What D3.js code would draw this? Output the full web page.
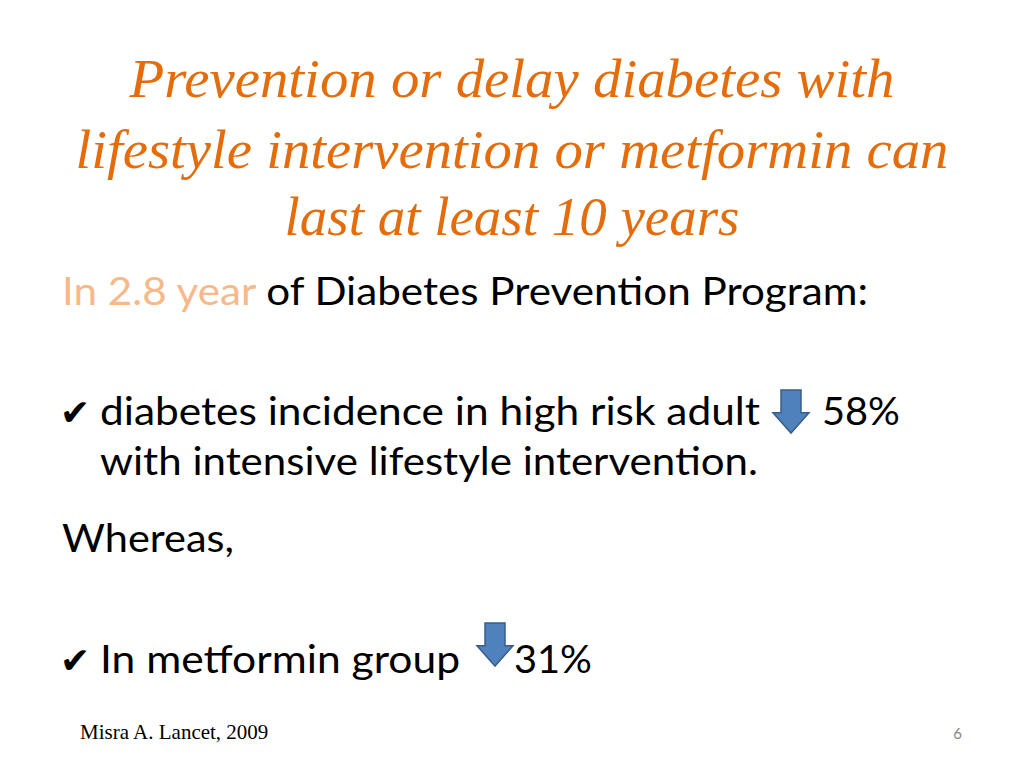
<!DOCTYPE html><html><head><meta charset="utf-8"><script src="https://cdn.jsdelivr.net/npm/d3@7"></script>
<style>body{margin:0;background:#fff}</style></head><body><svg id="s" width="1024" height="768"></svg>
<script>
const titleLines = ["Prevention or delay diabetes with","lifestyle intervention or metformin can","last at least 10 years"];
const reductionLabels = ["58%","31%"];
const reductionValues = [58,31];
const svg = d3.select("#s");
const orange = "#E46C0A";
const body = "Lato, 'Open Sans', sans-serif";
const tY = [97,168,235], tL=[765,873,455];
svg.selectAll("text.t").data(titleLines).join("text").attr("class","t")
  .attr("x",512).attr("y",(d,i)=>tY[i]).attr("text-anchor","middle")
  .attr("font-family","'Liberation Serif', serif").attr("font-style","italic")
  .attr("font-size",54).attr("fill",orange).attr("textLength",(d,i)=>tL[i]).attr("lengthAdjust","spacingAndGlyphs").text(d=>d);
function txt(x,y,parts,len,size){
  const t=svg.append("text").attr("x",x).attr("y",y).attr("font-family",body).attr("font-size",size||38);
  parts.forEach(p=>t.append("tspan").attr("fill",p[1]||"#000").text(p[0]));
  if(len) t.attr("textLength",len).attr("lengthAdjust","spacingAndGlyphs");
  return t;
}
txt(62,305,[["In 2.8 year ","#F7B989"],["of Diabetes Prevention Program:"]],806);
txt(60,425,[["✔"]],null,36).attr("font-family","'DejaVu Sans'");
txt(100,425,[["diabetes incidence in high risk adult"]],660);
txt(100,475,[["with intensive lifestyle intervention."]],658);
txt(62,552,[["Whereas,"]],172);
txt(60,673,[["✔"]],null,36).attr("font-family","'DejaVu Sans'");
txt(100,673,[["In metformin group"]],360);
const arrows=[{cx:791,top:390,lx:822,ly:425},{cx:495,top:623,lx:514,ly:673}];
const h=d3.scaleLinear().domain([0,1]).range([0,43]);
arrows.forEach((a,i)=>{
  const p=`M${a.cx-10},${a.top}h20v${h(0.53)}h8l-18,${h(0.47)}l-18,${-h(0.47)}h8z`;
  svg.append("path").attr("d",p).attr("fill","#4F81BD").attr("stroke","#385D8A").attr("stroke-width",1.5);
  txt(a.lx,a.ly,[[reductionLabels[i]]],i?78:78);
});
svg.append("text").attr("x",80).attr("y",739).attr("font-family","'Liberation Serif', serif").attr("font-size",21).text("Misra A. Lancet, 2009");
svg.append("text").attr("x",962).attr("y",739).attr("text-anchor","end").attr("font-family",body).attr("font-size",15).attr("fill","#888").text("6");
</script></body></html>
